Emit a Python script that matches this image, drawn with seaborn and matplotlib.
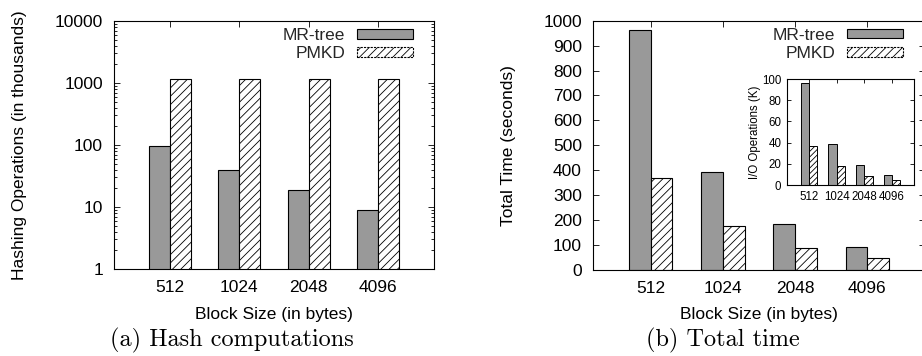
import matplotlib
matplotlib.use("Agg")
import matplotlib.pyplot as plt
import matplotlib.patches as mpatches
from matplotlib.ticker import LogLocator, NullFormatter, FixedLocator
import pandas as pd
import seaborn as sns

# Block sizes (bytes)
block_sizes = ["512", "1024", "2048", "4096"]
series_names = ["MR-tree", "PMKD"]

# Hashing operations (thousands)
mr_hash = [97, 39.7, 18.6, 9.05]
pmkd_hash = [1140, 1140, 1140, 1140]

# Total time (seconds)
mr_time = [961, 393, 184, 91]
pmkd_time = [368, 176, 88, 47]

# I/O operations (K)
mr_io = [96, 39, 18.8, 9.4]
pmkd_io = [36.7, 17.9, 8.5, 4.7]

sns.set_theme(style="white")
plt.rcParams["font.family"] = ["Liberation Sans", "DejaVu Sans"]
plt.rcParams["hatch.linewidth"] = 0.6
plt.rcParams["hatch.color"] = "#333333"

GRAY = "#999999"
FS = 12.5


def frame(mr, pmkd, value):
    return pd.DataFrame({
        "block": block_sizes * 2,
        "series": [series_names[0]] * 4 + [series_names[1]] * 4,
        value: list(mr) + list(pmkd),
    })


def draw_bars(ax, df, value, hatch, log=False, lw=0.8):
    sns.barplot(data=df, x="block", y=value, hue="series", order=block_sizes,
                hue_order=series_names,
                palette={series_names[0]: GRAY, series_names[1]: "white"},
                saturation=1, width=0.6, errorbar=None, edgecolor="black",
                linewidth=lw, log_scale=log, legend=False, ax=ax)
    for bar in ax.containers[1]:
        bar.set_hatch(hatch)
    ax.set_xlim(-0.8, 3.8)


def style_axes(ax, fs, pad, ticklen=4):
    for s in ax.spines.values():
        s.set_visible(True)
        s.set_color("black")
        s.set_linewidth(0.8)
    ax.tick_params(axis="both", which="both", direction="in", top=True,
                   right=True, bottom=True, left=True, labelsize=fs,
                   colors="black", pad=pad, width=0.6)
    ax.tick_params(which="major", length=ticklen)
    ax.tick_params(which="minor", length=ticklen * 0.5)
    ax.set_xlabel("")
    ax.set_ylabel("")


def legend(ax, anchor):
    handles = [
        mpatches.Patch(facecolor=GRAY, edgecolor="black", linewidth=0.8),
        mpatches.Patch(facecolor="white", edgecolor="black", linewidth=0.8,
                       linestyle=(0, (2, 1)), hatch="////"),
    ]
    ax.legend(handles, series_names, loc="upper right", bbox_to_anchor=anchor,
              frameon=False, markerfirst=False, fontsize=FS,
              handlelength=3.2, handleheight=0.5, handletextpad=0.7,
              labelspacing=0.2, borderpad=0, borderaxespad=0)


fig = plt.figure(figsize=(9.22, 3.56), dpi=100)

# (a) hashing operations, log scale
ax1 = fig.add_axes([114 / 922, 87 / 356, 320 / 922, 248 / 356])
draw_bars(ax1, frame(mr_hash, pmkd_hash, "hash"), "hash", "////", log=True)
ax1.set_yscale("log")
ax1.set_ylim(1, 10000)
ax1.yaxis.set_major_locator(FixedLocator([1, 10, 100, 1000, 10000]))
ax1.set_yticklabels(["1", "10", "100", "1000", "10000"])
ax1.yaxis.set_minor_locator(LogLocator(base=10, subs=range(2, 10)))
ax1.yaxis.set_minor_formatter(NullFormatter())
style_axes(ax1, FS, 8)
ax1.set_xlabel("Block Size (in bytes)", fontsize=FS, color="black")
ax1.set_ylabel("Hashing Operations (in thousands)", fontsize=FS, color="black")
ax1.xaxis.set_label_coords(0.5, -45 / 248)
ax1.xaxis.label.set_va("center")
ax1.yaxis.set_label_coords(-95 / 320, 0.5)
ax1.yaxis.label.set_va("center")
legend(ax1, (0.934, 1 - 7 / 248))

# (b) total time
ax2 = fig.add_axes([593 / 922, 86 / 356, 332 / 922, 249.3 / 356])
draw_bars(ax2, frame(mr_time, pmkd_time, "time"), "time", "////")
ax2.set_ylim(0, 1000)
ax2.yaxis.set_major_locator(FixedLocator(range(0, 1001, 100)))
style_axes(ax2, FS, 8)
ax2.set_xlabel("Block Size (in bytes)", fontsize=FS, color="black")
ax2.set_ylabel("Total Time (seconds)", fontsize=FS, color="black")
ax2.xaxis.set_label_coords(0.5, -44 / 249.3)
ax2.xaxis.label.set_va("center")
ax2.yaxis.set_label_coords(-85 / 332, 0.5)
ax2.yaxis.label.set_va("center")
legend(ax2, (0.933, 1 - 7 / 249.3))

# inset: I/O operations
ax3 = fig.add_axes([787 / 922, 171 / 356, 127 / 922, 106 / 356])
draw_bars(ax3, frame(mr_io, pmkd_io, "io"), "io", "//////", lw=0.7)
ax3.set_ylim(0, 100)
ax3.yaxis.set_major_locator(FixedLocator(range(0, 101, 20)))
style_axes(ax3, 8.3, 4, ticklen=3)
ax3.set_ylabel("I/O Operations (K)", fontsize=8.3, color="black", labelpad=0.5)

fig.text(232 / 922, 1 - 340 / 356, "(a) Hash computations", family="cmr10",
         fontsize=17.5, ha="center", va="center", color="black")
fig.text(723 / 922, 1 - 340 / 356, "(b) Total time", family="cmr10",
         fontsize=17.5, ha="center", va="center", color="black")

fig.savefig("out.png", dpi=100, facecolor="white")
